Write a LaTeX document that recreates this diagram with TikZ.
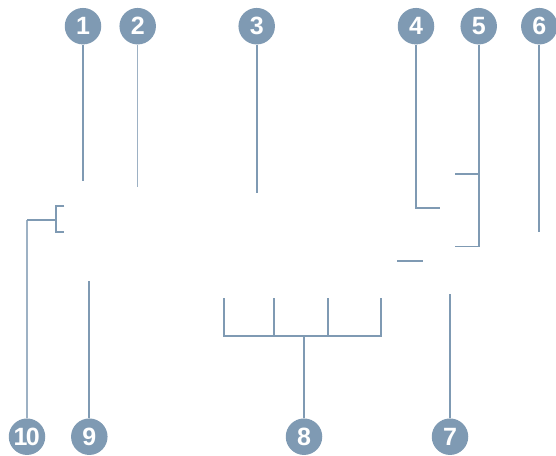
\documentclass[tikz,border=0pt]{standalone}
\usepackage{fontspec}
\setmainfont{Liberation Sans}
\definecolor{slate}{HTML}{7F9AB3}
\definecolor{slatelight}{HTML}{9DB1C4}
\begin{document}
\begin{tikzpicture}[x=1pt,y=-1pt,
  badge/.style={circle,fill=slate,minimum size=36.5pt,inner sep=0pt,text=white,font=\bfseries\fontsize{25}{25}\selectfont},
  lead/.style={draw=slate,line width=1.7pt},
  leadthin/.style={draw=slatelight,line width=1.1pt}]
\useasboundingbox (0,0) rectangle (556,455);
% badges
\node[badge] (c1) at (83,26.2) {1};
\node[badge] (c2) at (137.7,26.2) {2};
\node[badge] (c3) at (256.7,26.2) {3};
\node[badge] (c4) at (416,26.2) {4};
\node[badge] (c5) at (478.7,26.2) {5};
\node[badge] (c6) at (539.3,26.2) {6};
\node[badge] (c7) at (450,436.7) {7};
\node[badge] (c8) at (304,436.7) {8};
\node[badge] (c9) at (89.3,436.7) {9};
\node[badge] (c10) at (27,436.7) {\kern-0.5pt1\kern-1.5pt0};
% end points
\coordinate (e1) at (83,181);
\coordinate (e2) at (137.7,187);
\coordinate (e3) at (256.7,193);
\coordinate (e4a) at (416,208);
\coordinate (e4) at (440,208);
\coordinate (e5a) at (478.7,174);
\coordinate (e5b) at (478.7,246.5);
\coordinate (e5t) at (455,174);
\coordinate (e5u) at (455,246.5);
\coordinate (e6) at (539.3,232);
\coordinate (e7) at (450,294);
\coordinate (e8) at (304,336);
\coordinate (b8a) at (223.7,298.3);
\coordinate (b8b) at (273.7,298.3);
\coordinate (b8c) at (328,298.3);
\coordinate (b8d) at (381,298.3);
\coordinate (e9) at (89.3,281);
\coordinate (e10) at (27,220);
\coordinate (k10) at (55.7,220);
\coordinate (s1) at (397.3,260.7);
\coordinate (s2) at (422.7,260.7);
% connectors
\draw[lead] (c1.south) -- (e1);
\draw[leadthin] (c2.south) -- (e2);
\draw[lead] (c3.south) -- (e3);
\draw[lead] (c4.south) -- (e4a) -- (e4);
\draw[lead] (c5.south) -- (e5b) -- (e5u);
\draw[lead] (e5a) -- (e5t);
\draw[lead] (c6.south) -- (e6);
\draw[lead] (c7.north) -- (e7);
\draw[lead] (c8.north) -- (e8);
\draw[lead] (b8a) -- (b8a |- e8) -- (b8d |- e8) -- (b8d);
\draw[lead] (b8b) -- (b8b |- e8);
\draw[lead] (b8c) -- (b8c |- e8);
\draw[lead] (c9.north) -- (e9);
\draw[leadthin] (c10.north) -- (e10);
\draw[lead] (e10) -- (k10);
\draw[lead] (64.3,205.7) -- (55.7,205.7) -- (55.7,232.3) -- (64.3,232.3);
\draw[lead] (s1) -- (s2);
\end{tikzpicture}
\end{document}
